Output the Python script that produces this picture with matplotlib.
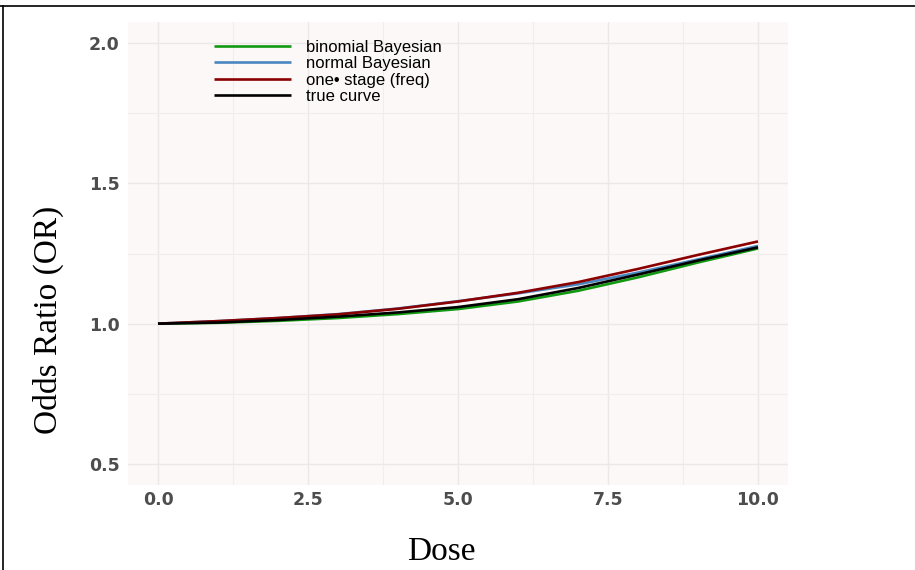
import matplotlib
matplotlib.use("Agg")
import matplotlib.pyplot as plt
from matplotlib.lines import Line2D
import numpy as np

# Data
dose = [0, 1, 2, 3, 4, 5, 6, 7, 8, 9, 10]
binomial_bayes = [1.000, 1.003, 1.010, 1.020, 1.034, 1.052, 1.079, 1.117, 1.165, 1.218, 1.268]
normal_bayes = [1.000, 1.009, 1.020, 1.034, 1.054, 1.080, 1.108, 1.140, 1.182, 1.229, 1.277]
one_stage = [1.000, 1.009, 1.020, 1.033, 1.053, 1.079, 1.110, 1.148, 1.195, 1.245, 1.293]
true_curve = [1.000, 1.004, 1.013, 1.025, 1.040, 1.059, 1.087, 1.127, 1.175, 1.225, 1.272]

series_labels = ["binomial Bayesian", "normal Bayesian", "one\u2022 stage (freq)", "true curve"]
series_colors = ["#119911", "#4A86C0", "#8B0000", "#000000"]
x_ticks = [0.0, 2.5, 5.0, 7.5, 10.0]
y_ticks = [0.5, 1.0, 1.5, 2.0]

fig = plt.figure(figsize=(9.15, 5.70), dpi=100)
fig.patch.set_facecolor("white")
ax = fig.add_axes([128/915, 1-485/570, (788-128)/915, (485-22)/570])
ax.set_facecolor("#FCF8F7")

series = [binomial_bayes, normal_bayes, one_stage, true_curve]
handles = []
for vals, lab, col in zip(series, series_labels, series_colors):
    ln, = ax.plot(dose, vals, color=col, lw=1.9, label=lab,
                  solid_capstyle="butt", solid_joinstyle="round")
    handles.append(ln)

ax.set_xlim(-0.5, 10.5)
ax.set_ylim(0.425, 2.075)
ax.set_xticks(x_ticks)
ax.set_xticklabels([f"{t:.1f}" for t in x_ticks])
ax.set_yticks(y_ticks)
ax.set_yticklabels([f"{t:.1f}" for t in y_ticks])
ax.set_xticks([1.25, 3.75, 6.25, 8.75], minor=True)
ax.set_yticks([0.75, 1.25, 1.75], minor=True)
ax.grid(True, which="major", color="#ECE8E8", lw=1.0)
ax.grid(True, which="minor", color="#F1EDED", lw=0.8)
ax.set_axisbelow(True)
ax.tick_params(which="both", length=0)
ax.tick_params(axis="x", pad=4)
ax.tick_params(axis="y", pad=6)
for lab in ax.get_xticklabels() + ax.get_yticklabels():
    lab.set_fontfamily("DejaVu Sans")
    lab.set_fontweight("bold")
    lab.set_fontsize(12.5)
    lab.set_color("#4D4D4D")
for s in ax.spines.values():
    s.set_visible(False)

leg = ax.legend(handles=handles, labels=series_labels, loc="upper left",
                bbox_to_anchor=((214-128)/660, 1-(40-22)/463), frameon=False,
                prop={"family": "Liberation Sans", "size": 12},
                handlelength=4.6, handletextpad=0.9, labelspacing=0.08,
                borderpad=0, borderaxespad=0)
for t in leg.get_texts():
    t.set_color("black")

fig.text(48/915, 1-320/570, "Odds Ratio (OR)", rotation=90, ha="center", va="center",
         fontfamily="Liberation Serif", fontsize=24, color="black")
fig.text(441/915, 1-552/570, "Dose", ha="center", va="center",
         fontfamily="Liberation Serif", fontsize=24, color="black")

# frame lines (top and left)
fig.add_artist(Line2D([0, 1], [1-6/570, 1-6/570], transform=fig.transFigure, color="black", lw=1.2))
fig.add_artist(Line2D([2.5/915, 2.5/915], [0, 1-6/570], transform=fig.transFigure, color="black", lw=1.2))

fig.savefig("out.png", dpi=100, facecolor=fig.get_facecolor())
